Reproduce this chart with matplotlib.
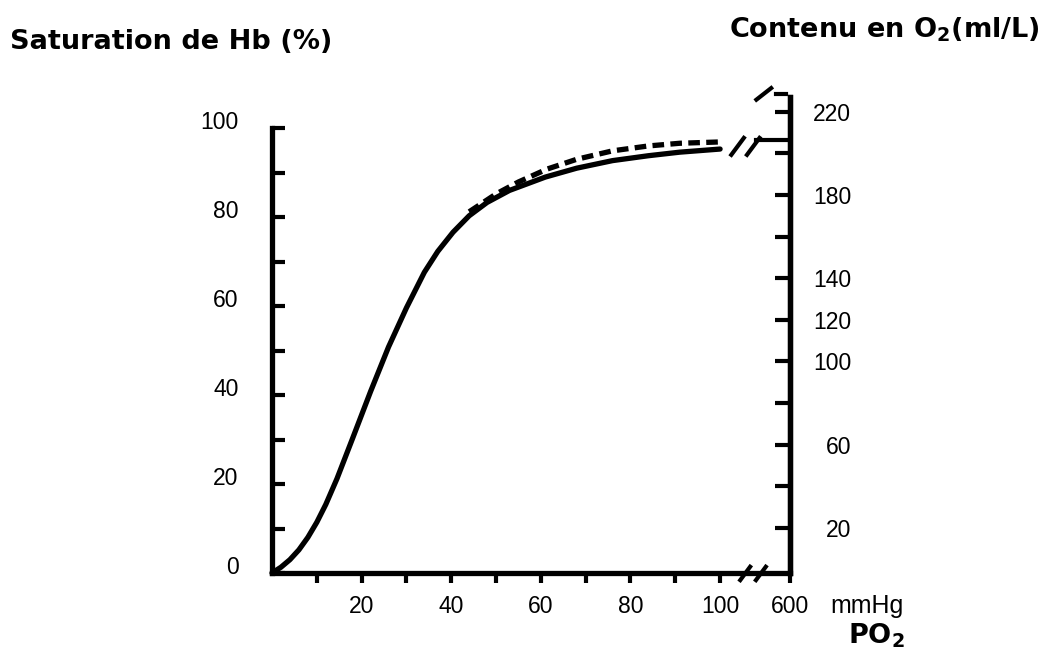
import matplotlib
matplotlib.use("Agg")
import matplotlib.pyplot as plt
import matplotlib.transforms as mtransforms

# --- data ---
po2_solid = [0, 2, 4, 6, 8, 10, 12, 14.5, 18, 22, 26, 30, 34, 37, 40.4, 44, 48, 53, 61, 68, 76, 84, 91, 100]
sat_solid = [0, 1.3, 3.0, 5.2, 8.0, 11.4, 15.4, 21.2, 30.3, 40.8, 50.8, 59.6, 67.6, 72.3, 76.6, 80.3,
             83.3, 86.0, 89.0, 91.0, 92.7, 93.8, 94.6, 95.3]
po2_dash = [44, 50, 55, 61.4, 68, 76, 84, 91, 100]
sat_dash = [81.2, 85.2, 87.9, 90.8, 93.0, 94.9, 96.0, 96.6, 96.9]
plateau_sat = 97.3          # value after the break (PO2 = 600)

x_ticks = [10, 20, 30, 40, 50, 60, 70, 80, 90, 100]
x_labels = ["", "20", "", "40", "", "60", "", "80", "", "100"]
left_ticks = [0, 10, 20, 30, 40, 50, 60, 70, 80, 90, 100]
left_labels = ["0", "", "20", "", "40", "", "60", "", "80", "", "100"]
o2_ticks = [20, 40, 60, 80, 100, 120, 140, 160, 180, 200, 220]
o2_labels = ["20", "", "60", "", "100", "120", "140", "", "180", "", "220"]

# position of the value 600 after the axis break (in 0-100 mmHg units)
x600 = 115.6
brk = 104.5
pct_per_ml = 0.4674         # 1 ml/L on the right axis in % units

plt.rcParams["font.family"] = ["Liberation Sans", "DejaVu Sans"]

fig = plt.figure(figsize=(10.51, 6.59), dpi=100)
ax = fig.add_axes([272 / 1051, (659 - 573) / 659, 518 / 1051, 476 / 659])
ymax = 107
ax.set_xlim(0, x600)
ax.set_ylim(0, ymax)

lw = 3.8
ax.plot(po2_solid, sat_solid, color="black", lw=lw, solid_capstyle="round", clip_on=False)
ax.plot(po2_dash, sat_dash, color="black", lw=lw, dashes=(2.2, 1.2), clip_on=False)
ax.plot([brk + 3.5, x600], [plateau_sat, plateau_sat], color="black", lw=3, clip_on=False)

# break marks on the curve and on the x axis
for dx in (0, 3.5):
    ax.plot([brk - 2 + dx, brk + 0.8 + dx], [94.0, 97.8], color="black", lw=3, clip_on=False)
    ax.plot([brk + dx, brk + 2.2 + dx], [-1.6, 1.4], color="black", lw=3, clip_on=False)
# marks above the right spine
ax.plot([x600 - 7.5, x600 - 4.2], [106.4, 109], color="black", lw=3, clip_on=False)
ax.plot([x600 - 3.2, x600 - 0.8], [107.6, 107.6], color="black", lw=3, clip_on=False)

ax.spines["top"].set_visible(False)
for s in ["left", "bottom", "right"]:
    ax.spines[s].set_linewidth(3.8)
ax.spines["left"].set_bounds(0, 100)

ax.set_xticks(x_ticks + [x600])
ax.set_xticklabels(x_labels + ["600"])
ax.tick_params(axis="x", direction="out", length=7, width=3, pad=9, labelsize=16.5)
ax.set_yticks(left_ticks)
ax.set_yticklabels(left_labels)
ax.tick_params(axis="y", direction="in", length=9, width=3, pad=24, labelsize=16.5)
offset = mtransforms.ScaledTranslation(0, 6 / 72, fig.dpi_scale_trans)
for lab in ax.get_yticklabels():
    lab.set_transform(lab.get_transform() + offset)

ax2 = ax.twinx()
ax2.set_ylim(-1.8, ymax / pct_per_ml - 1.8)
for s in ["top", "left", "bottom"]:
    ax2.spines[s].set_visible(False)
ax2.spines["right"].set_linewidth(3.8)
ax2.set_yticks(o2_ticks)
ax2.set_yticklabels(o2_labels)
ax2.tick_params(axis="y", direction="in", length=11, width=3, pad=44, labelsize=16.5)
for lab in ax2.get_yticklabels():
    lab.set_horizontalalignment("right")

fig.text(10 / 1051, 1 - 42 / 659, "Saturation de Hb (%)", fontsize=19.5, fontweight="bold",
         family="DejaVu Sans", va="center", ha="left")
fig.text(1040 / 1051, 1 - 30 / 659, r"Contenu en O$_\mathbf{2}$(ml/L)", fontsize=19.5,
         fontweight="bold", family="DejaVu Sans", va="center", ha="right")
fig.text(830 / 1051, 1 - 606 / 659, "mmHg", fontsize=18, va="center", ha="left")
fig.text(848 / 1051, 1 - 636 / 659, r"PO$_\mathbf{2}$", fontsize=19.5, fontweight="bold",
         family="DejaVu Sans", va="center", ha="left")

fig.savefig("out.png", dpi=100)
